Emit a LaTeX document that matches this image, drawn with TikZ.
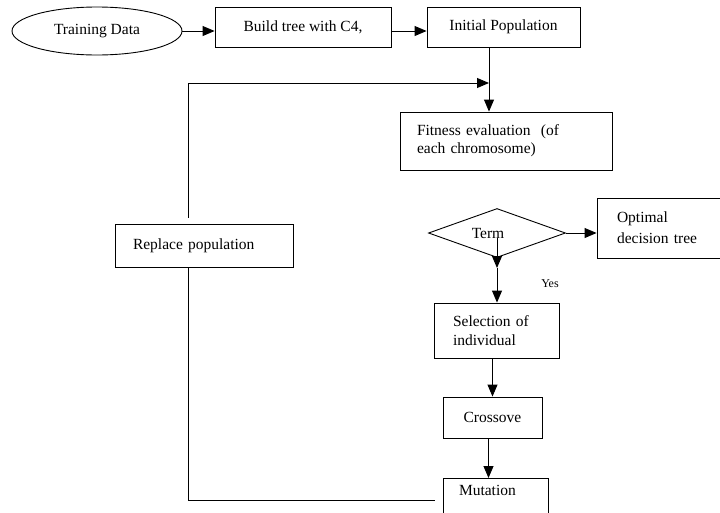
\documentclass[tikz,border=0pt]{standalone}
\usepackage{fontspec}
\setmainfont{Liberation Serif}
\usetikzlibrary{shapes.geometric,arrows.meta}
\begin{document}
\begin{tikzpicture}[x=1pt,y=-1pt,
	box/.style={draw,line width=0.9pt,inner sep=0pt,font=\fontsize{15.5}{18}\selectfont},
	arr/.style={line width=0.9pt,-{Triangle[length=12pt,width=10pt]}},
	lin/.style={line width=0.9pt}]
	\useasboundingbox (0,0) rectangle (720,512);
	\clip (0,0) rectangle (720,512);
	\node[box,ellipse,minimum width=170pt,minimum height=48pt] (train) at (97,31) {Training Data};
	\node[box,minimum width=176pt,minimum height=40pt] (build) at (303,27) {Build tree with C4,};
	\node[box,minimum width=153pt,minimum height=40pt] (init) at (503.5,27) {Initial Population};
	\node[box,minimum width=212pt,minimum height=58pt,text width=178pt,align=left] (fit) at (506,141) {Fitness evaluation~~(of\\each chromosome)};
	\node[box,diamond,aspect=2.8,minimum width=137pt,minimum height=49pt] (term) at (497,233) {Term\hspace*{18pt}};
	\node[box,minimum width=133pt,minimum height=60pt,text width=93pt,align=left,font=\fontsize{15.5}{21}\selectfont] (opt) at (663.5,228) {Optimal\\decision tree};
	\node[box,minimum width=178pt,minimum height=43pt,text width=142pt,align=left] (rep) at (204,245.5) {Replace population};
	\node[box,minimum width=125pt,minimum height=55pt,text width=87pt,align=left,font=\fontsize{15.5}{19}\selectfont] (sel) at (496.5,330.5) {Selection of\\individual};
	\node[box,minimum width=99pt,minimum height=41pt] (cross) at (492.5,417.5) {Crossove};
	\node[box,anchor=north,minimum width=105pt,text width=73pt,align=left,text height=11pt,text depth=40pt,inner ysep=6pt] (mut) at (495.5,478) {Mutation};
	\node[font=\fontsize{12}{14}\selectfont] (yes) at (550,284) {Yes};
	\coordinate (drop) at (489,83);
	\coordinate (loop) at (188,83);
	\coordinate (ret) at (188,500);
	\coordinate (mid) at (497,268);
	\draw[arr] (train.east) -- (build.west |- train.east);
	\draw[arr] (build.east |- train.east) -- (init.west |- train.east);
	\draw[arr] (init.south -| drop) -- (fit.north -| drop);
	\draw[arr,shorten <=6pt] (rep.north -| loop) -- (loop) -- (drop);
	\draw[arr,shorten <=5pt] (term.center) -- (mid);
	\draw[arr] (mid) -- (sel.north -| mid);
	\draw[arr] (term.east) -- (opt.west |- term.east);
	\draw[arr] (sel.south -| cross) -- (cross.north);
	\draw[arr] ([xshift=-4pt]cross.south) -- ([xshift=-4pt]cross.south |- mut.north);
	\draw[lin,shorten <=8pt] (mut.west |- ret) -- (ret) -- (rep.south -| ret);
\end{tikzpicture}
\end{document}
